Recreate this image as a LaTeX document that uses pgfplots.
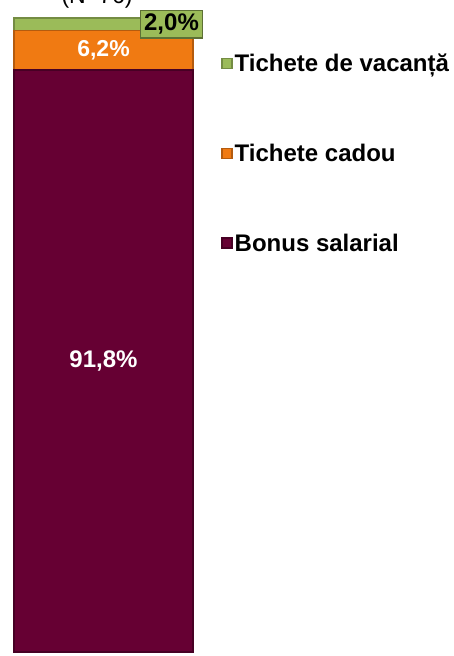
\documentclass[border=0pt]{standalone}
\usepackage{pgfplots}
\pgfplotsset{compat=1.18}
\usepackage{fontspec}
\setmainfont{Liberation Sans}
\definecolor{cmaroon}{HTML}{660033}
\definecolor{corange}{HTML}{F07A12}
\definecolor{cgreen}{HTML}{9BBB59}
\begin{document}
\begin{tikzpicture}
\begin{axis}[
  at={(0,0)}, anchor=south west,
  scale only axis, width=453pt, height=656pt,
  xmin=0, xmax=453, ymin=-0.63, ymax=102.84,
  hide axis,
  ybar stacked, bar width=179pt,
  legend style={draw=none, fill=none, at={(axis cs:218,94.95)}, anchor=north west,
    font=\bfseries\fontsize{24}{27}\selectfont, row sep=67pt,
    legend cell align=left},
  legend image code/.code={\fill[#1] (0pt,-4.5pt) rectangle (10pt,5.5pt);},
  reverse legend,
]
\addplot[fill=cmaroon, draw=cmaroon!70!black, line width=1.5pt,
  nodes near coords={91,8\%}, nodes near coords style={text=white, font=\bfseries\fontsize{24}{27}\selectfont, anchor=center}]
  coordinates {(103.5,91.8)};
\addlegendentry{Bonus salarial}
\addplot[fill=corange, draw=corange!75!black, line width=1.5pt,
  nodes near coords={6,2\%}, nodes near coords style={text=white, font=\bfseries\fontsize{23}{26}\selectfont, anchor=center}]
  coordinates {(103.5,6.2)};
\addlegendentry{Tichete cadou}
\addplot[fill=cgreen, draw=cgreen!75!black, line width=1.5pt,
  nodes near coords={2,0\%}, nodes near coords style={text=black, font=\bfseries\fontsize{24}{27}\selectfont, anchor=center,
    fill=cgreen, draw=cgreen!60!black, line width=1.5pt, inner sep=3.5pt, xshift=68pt, yshift=0pt}]
  coordinates {(103.5,2.0)};
\addlegendentry{Tichete de vacanță}
\node[anchor=base, font=\fontsize{23}{26}\selectfont] at (axis cs:97,102.3) {(N=76)};
\end{axis}
\pgfresetboundingbox
\useasboundingbox (0,0) rectangle (453pt,656pt);
\end{tikzpicture}
\end{document}
